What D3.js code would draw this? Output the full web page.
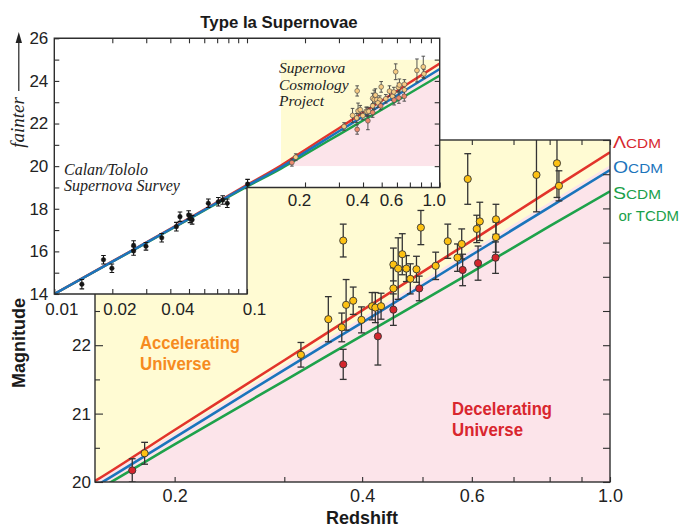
<!DOCTYPE html>
<html><head><meta charset="utf-8">
<script src="https://cdn.jsdelivr.net/npm/d3@7"></script>
<style>body{margin:0;background:#fff}svg{display:block}</style>
</head><body>
<svg id="c" width="682" height="527"></svg>
<script>
// ---------------- DATA ----------------
// model curves (redshift -> apparent magnitude)
const modelZ      = [0.01, 0.02, 0.05, 0.1, 0.15, 0.2, 0.3, 0.4, 0.6, 0.8, 1.0];
const lambdaCDM   = [14.0, 15.53, 17.55, 19.12, 20.03, 20.76, 21.78, 22.51, 23.53, 24.26, 24.82];
const openCDM     = [14.0, 15.52, 17.53, 19.08, 19.95, 20.65, 21.64, 22.33, 23.32, 24.02, 24.56];
const standardCDM = [14.0, 15.51, 17.51, 19.04, 19.88, 20.55, 21.48, 22.14, 23.07, 23.74, 24.25];
// yellow (accelerating) / pink (decelerating) boundary
const boundaryZ   = [0.15, 0.2, 0.3, 0.4, 0.6, 0.8, 1.0];
const boundaryMag = [20.02, 20.72, 21.71, 22.40, 23.39, 24.09, 24.63];

// Supernova Cosmology Project supernovae
const scpZ   = [0.171,0.179,0.319,0.353,0.371,0.373,0.373,0.377,0.387,0.399,0.415,0.420,0.429,0.424,0.449,0.449,0.449,0.464,0.457,0.471,0.489,0.478,0.494,0.497,0.525,0.549,0.569,0.578,0.580,0.591,0.611,0.618,0.614,0.656,0.656,0.655,0.762,0.822,0.828];
const scpMag = [20.17,20.42,21.86,22.38,22.26,21.72,23.53,22.59,22.65,22.37,22.57,22.55,22.57,22.13,22.83,23.18,22.52,23.33,23.12,23.12,23.11,22.97,22.83,23.72,23.16,23.52,23.28,23.48,23.10,24.43,23.70,23.81,23.20,23.84,23.58,23.28,24.49,24.66,24.33];
const scpErr = [0.17,0.16,0.18,0.33,0.21,0.22,0.24,0.37,0.20,0.19,0.20,0.22,0.19,0.42,0.30,0.24,0.23,0.30,0.45,0.19,0.19,0.22,0.18,0.25,0.20,0.25,0.20,0.22,0.23,0.37,0.20,0.28,0.25,0.22,0.22,0.23,0.54,0.50,0.22];
const scpRed = [1,0,0,0,0,1,0,0,0,0,0,0,0,1,0,0,1,0,0,0,0,0,1,0,0,0,0,0,1,0,0,0,1,0,0,1,0,0,0];

// Calan/Tololo Supernova Survey
const ctZ   = [0.0139,0.0180,0.0199,0.0258,0.0258,0.0299,0.0361,0.0430,0.0449,0.0498,0.0506,0.0519,0.0630,0.0710,0.0748,0.0790,0.1007];
const ctMag = [14.46,15.61,15.21,16.28,16.02,16.24,16.64,17.16,17.63,17.71,17.55,17.48,18.26,18.33,18.41,18.26,19.16];
const ctErr = [0.22,0.20,0.20,0.22,0.20,0.18,0.20,0.20,0.22,0.20,0.20,0.20,0.20,0.20,0.20,0.20,0.22];

// ticks
const mainXTicks  = [0.2,0.3,0.4,0.5,0.6,0.7,0.8,0.9,1.0];
const mainXLabels = [0.2,0.4,0.6,1.0];
const mainYMajor  = [20,21,22,23,24,25];
const mainYMinor  = [20.5,21.5,22.5,23.5,24.5];
const insetYTicks = [14,15,16,17,18,19,20,21,22,23,24,25,26];
const insetXLowTicks  = [0.01,0.02,0.03,0.04,0.05,0.06,0.07,0.08,0.09,0.1];
const insetXLowLabels = [0.01,0.02,0.04,0.1];
const insetXHighTicks = [0.2,0.3,0.4,0.5,0.6,0.7,0.8,0.9,1.0];
const insetXHighLabels= [0.2,0.4,0.6,1.0];
const insetRightTicks = [20,21,22,23,24,25];

// ---------------- STYLE ----------------
const SANS = "'Liberation Sans', Arial, Helvetica, sans-serif";
const SERIF = "'Liberation Serif', 'Times New Roman', serif";
const C = {
  yellow:"#FFFBD3", pink:"#FCE4EA", red:"#E2342B", blue:"#1B75BC", green:"#1EA24B",
  ptYellow:"#FDC112", ptRed:"#D4262D", ptYellowL:"#F7CB83", ptRedL:"#EC8A6C",
  axis:"#2e2e2e", orange:"#F68B1F", decel:"#D9262E"
};

const svg = d3.select("#c");
const defs = svg.append("defs");

// ---------------- MAIN PLOT ----------------
const x = d3.scaleLog().domain([0.149, 1.0]).range([95, 610]);
const y = d3.scaleLinear().domain([20, 25]).range([482, 140]);

defs.append("clipPath").attr("id","clipMain").append("rect")
  .attr("x", x.range()[0]).attr("y", y.range()[1])
  .attr("width", x.range()[1]-x.range()[0]).attr("height", y.range()[0]-y.range()[1]);

const gMain = svg.append("g");
const pm = gMain.append("g").attr("clip-path","url(#clipMain)");

function drawPanel(g, xs, ys, zlo, zhi, mlo, mhi){
  g.append("rect").attr("x", xs(zlo)).attr("y", ys(mhi))
    .attr("width", xs(zhi)-xs(zlo)).attr("height", ys(mlo)-ys(mhi)).attr("fill", C.yellow);
  const pts = boundaryZ.map((z,i)=>[xs(z), ys(boundaryMag[i])]);
  const area = d3.area().x(d=>d[0]).y0(ys(mlo)).y1(d=>d[1]).curve(d3.curveMonotoneX);
  g.append("path").attr("d", area(pts)).attr("fill", C.pink);
}
function drawModels(g, xs, ys, w, order){
  const line = d3.line().x(d=>xs(d[0])).y(d=>ys(d[1])).curve(d3.curveMonotoneX);
  const models = {red:lambdaCDM, blue:openCDM, green:standardCDM};
  order.forEach(k=>{
    g.append("path").attr("d", line(modelZ.map((z,i)=>[z, models[k][i]])))
      .attr("fill","none").attr("stroke", C[k]).attr("stroke-width", w);
  });
}
function drawPoints(g, xs, ys, zs, ms, es, fills, r, cap, sw, ebColor, ptStroke, ebW){
  const gb = g.append("g");
  zs.forEach((z,i)=>{
    const px = xs(z), y1 = ys(ms[i]+es[i]), y2 = ys(ms[i]-es[i]);
    gb.append("line").attr("x1",px).attr("x2",px).attr("y1",y1).attr("y2",y2);
    gb.append("line").attr("x1",px-cap).attr("x2",px+cap).attr("y1",y1).attr("y2",y1);
    gb.append("line").attr("x1",px-cap).attr("x2",px+cap).attr("y1",y2).attr("y2",y2);
  });
  gb.attr("stroke", ebColor).attr("stroke-width", ebW);
  zs.forEach((z,i)=>{
    g.append("circle").attr("cx", xs(z)).attr("cy", ys(ms[i])).attr("r", r)
      .attr("fill", fills[i]).attr("stroke", ptStroke).attr("stroke-width", sw);
  });
}

drawPanel(pm, x, y, 0.149, 1.0, 19.5, 25.5);
drawModels(pm, x, y, 2.6, ["red","blue","green"]);
drawPoints(pm, x, y, scpZ, scpMag, scpErr, scpRed.map(v=>v?C.ptRed:C.ptYellow), 3.6, 3.4, 0.9, "#333", "#333", 1.3);

// main axes
function styleAxis(g){
  g.select(".domain").remove();
  g.selectAll(".tick line").attr("stroke", C.axis).attr("stroke-width", 1.1);
  g.selectAll("text").attr("font-family", SANS).attr("fill", "#222");
}
const fmt1 = d3.format(".1f");
gMain.append("g").attr("transform",`translate(0,${y(20)})`)
  .call(d3.axisBottom(x).tickValues(mainXTicks).tickSize(-5).tickPadding(7)
    .tickFormat(d => mainXLabels.includes(d) ? fmt1(d) : ""))
  .call(styleAxis).selectAll("text").attr("font-size", 18);
gMain.append("g").attr("transform",`translate(0,${y(25)})`)
  .call(d3.axisTop(x).tickValues(mainXTicks).tickSize(-5).tickFormat(""))
  .call(styleAxis);
gMain.append("g").attr("transform",`translate(${x(0.149)},0)`)
  .call(d3.axisLeft(y).tickValues(mainYMajor).tickSize(-8).tickPadding(4).tickFormat(d3.format("d")))
  .call(styleAxis).selectAll("text").attr("font-size", 17);
gMain.append("g").attr("transform",`translate(${x(0.149)},0)`)
  .call(d3.axisLeft(y).tickValues(mainYMinor).tickSize(-5).tickFormat(""))
  .call(styleAxis);
gMain.append("g").attr("transform",`translate(${x(1.0)},0)`)
  .call(d3.axisRight(y).tickValues(mainYMajor.concat(mainYMinor)).tickSize(-7).tickFormat(""))
  .call(styleAxis);
gMain.append("rect").attr("x", x.range()[0]).attr("y", y.range()[1])
  .attr("width", x.range()[1]-x.range()[0]).attr("height", y.range()[0]-y.range()[1])
  .attr("fill","none").attr("stroke", C.axis).attr("stroke-width", 1.4);

// region labels
function twoLine(g, xx, yy, lines, color, len){
  lines.forEach((t,i)=>{
    g.append("text").attr("x", xx).attr("y", yy + i*21).text(t)
      .attr("font-family", SANS).attr("font-weight","bold").attr("font-size", 18)
      .attr("fill", color).attr("textLength", len[i]).attr("lengthAdjust","spacingAndGlyphs");
  });
}
twoLine(gMain, 140, 349, ["Accelerating","Universe"], C.orange, [100, 71]);
twoLine(gMain, 452, 415, ["Decelerating","Universe"], C.decel, [100, 71]);

// ---------------- INSET ----------------
const xi = d3.scaleLog().domain([0.01, 1.0]).range([54.3, 439.7]);
const yi = d3.scaleLinear().domain([14, 26]).range([294, 38.3]);
const insetShape = [[0.01,26],[1.0,26],[1.0,19],[0.1,19],[0.1,14],[0.01,14]];
const shapePath = "M" + insetShape.map(d=>[xi(d[0]), yi(d[1])].join(",")).join("L") + "Z";

defs.append("clipPath").attr("id","clipInset").append("path").attr("d", shapePath);
defs.append("clipPath").attr("id","clipInsetBox").append("rect")
  .attr("x", xi(0.15)).attr("y", yi(25)).attr("width", xi(1.0)-xi(0.15)).attr("height", yi(20)-yi(25));

const gIn = svg.append("g");
gIn.append("path").attr("d", shapePath).attr("fill", "#fff");
const pi = gIn.append("g").attr("clip-path","url(#clipInset)");
const pbox = pi.append("g").attr("clip-path","url(#clipInsetBox)");
drawPanel(pbox, xi, yi, 0.15, 1.0, 20, 25);
drawModels(pi, xi, yi, 2.4, ["green","red","blue"]);
drawPoints(pi, xi, yi, ctZ, ctMag, ctErr, ctZ.map(()=>"#151515"), 2.3, 2.3, 0.4, "#151515", "#151515", 1.1);
drawPoints(pi, xi, yi, scpZ, scpMag, scpErr, scpRed.map(v=>v?C.ptRedL:C.ptYellowL), 2.4, 1.8, 0.6, "#444", "#444", 0.9);

// inset axes
gIn.append("g").attr("transform",`translate(${xi(0.01)},0)`)
  .call(d3.axisLeft(yi).tickValues(insetYTicks).tickSize(-5).tickPadding(6)
    .tickFormat(d => d % 2 === 0 ? d : ""))
  .call(styleAxis).selectAll("text").attr("font-size", 17);
gIn.append("g").attr("transform",`translate(0,${yi(26)})`)
  .call(d3.axisTop(xi).tickValues(insetXLowTicks.slice(1).concat(insetXHighTicks.slice(0,-1))).tickSize(-5).tickFormat(""))
  .call(styleAxis);
gIn.append("g").attr("transform",`translate(${xi(1.0)},0)`)
  .call(d3.axisRight(yi).tickValues(insetRightTicks).tickSize(-5).tickFormat(""))
  .call(styleAxis);
gIn.append("g").attr("transform",`translate(0,${yi(14)})`)
  .call(d3.axisBottom(xi).tickValues(insetXLowTicks).tickSize(-5).tickPadding(9)
    .tickFormat(d => insetXLowLabels.includes(d) ? String(d) : ""))
  .call(styleAxis).selectAll("text").attr("font-size", 17).attr("dx", 7);
gIn.append("g").attr("transform",`translate(0,${yi(19)})`)
  .call(d3.axisBottom(xi).tickValues(insetXHighTicks).tickSize(-5).tickPadding(6)
    .tickFormat(d => insetXHighLabels.includes(d) ? fmt1(d) : ""))
  .call(styleAxis).selectAll("text").attr("font-size", 17).attr("dx", -6);
gIn.append("path").attr("d", shapePath).attr("fill","none")
  .attr("stroke", C.axis).attr("stroke-width", 1.4);

// inset italic labels
function serifLines(g, xx, yy, lines, size, gap){
  lines.forEach((t,i)=>{
    g.append("text").attr("x", xx).attr("y", yy + i*gap).text(t)
      .attr("font-family", SERIF).attr("font-style","italic").attr("font-size", size).attr("fill","#222");
  });
}
serifLines(gIn, 279, 73, ["Supernova","Cosmology","Project"], 15.5, 16.5);
serifLines(gIn, 64, 174.5, ["Calan/Tololo","Supernova Survey"], 16, 16.3);

// ---------------- TITLES & LEGEND ----------------
svg.append("text").attr("x", 279).attr("y", 28).attr("text-anchor","middle")
  .attr("font-family", SANS).attr("font-weight","bold").attr("font-size", 16.8)
  .attr("fill","#1a1a1a").text("Type Ia Supernovae");

svg.append("text").attr("transform","translate(24,122.5) rotate(-90)").attr("text-anchor","middle")
  .attr("font-family", SERIF).attr("font-style","italic").attr("font-size", 19)
  .attr("fill","#222").text("fainter");
svg.append("line").attr("x1",18.8).attr("x2",18.8).attr("y1",91).attr("y2",40)
  .attr("stroke","#222").attr("stroke-width",1.2);
svg.append("path").attr("d","M18.8,32 L15.6,43 L22,43 Z").attr("fill","#222");

svg.append("text").attr("transform","translate(24.5,343) rotate(-90)").attr("text-anchor","middle")
  .attr("font-family", SANS).attr("font-weight","bold").attr("font-size", 18)
  .attr("fill","#1a1a1a").text("Magnitude");
svg.append("text").attr("x", 362).attr("y", 524).attr("text-anchor","middle")
  .attr("font-family", SANS).attr("font-weight","bold").attr("font-size", 18)
  .attr("fill","#1a1a1a").text("Redshift");

const legend = [
  {big:"\u039B", rest:"CDM", color:"#D7282F", y:147.5, len:48},
  {big:"O", rest:"CDM", color:"#1C75BC", y:173.3, len:50},
  {big:"S", rest:"CDM", color:"#1AA04A", y:199.3, len:48}
];
legend.forEach(d=>{
  const t = svg.append("text").attr("x", 613).attr("y", d.y).attr("font-family", SANS)
    .attr("fill", d.color).attr("textLength", d.len).attr("lengthAdjust","spacingAndGlyphs");
  t.append("tspan").attr("font-size", 16.5).text(d.big);
  t.append("tspan").attr("font-size", 13).text(d.rest);
});
svg.append("text").attr("x", 618.5).attr("y", 221).attr("font-family", SANS)
  .attr("font-size", 15).attr("fill","#1AA04A").text("or TCDM");
</script>
</body></html>
